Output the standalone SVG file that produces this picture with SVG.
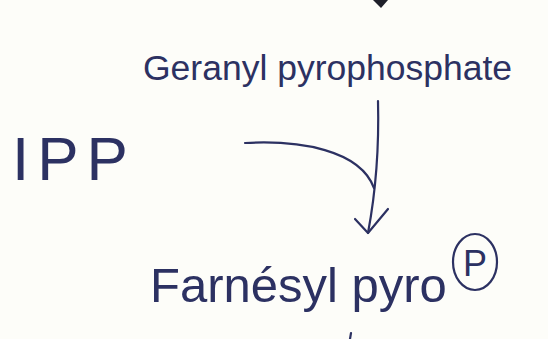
<svg xmlns="http://www.w3.org/2000/svg" width="548" height="339" viewBox="0 0 548 339">
  <style>
    .ink { fill: #2c3162; font-family: "Liberation Sans", Arial, sans-serif; }
    .line { fill: none; stroke: #2c3162; stroke-width: 2.2; stroke-linecap: round; stroke-linejoin: round; }
  </style>
  <rect width="548" height="339" fill="#fdfdf9"/>

  <g id="connectors">
    <!-- arrowhead arriving from above the sheet -->
    <path d="M373 0 L388 0 L381 8 Z" fill="#1e1f2a"/>
    <!-- main step: geranyl pyrophosphate down to farnesyl pyrophosphate -->
    <path class="line" d="M378 101 C379 140 377 185 368 233"/>
    <path class="line" d="M355 219 L368 233 L388 209"/>
    <!-- IPP joins the main step -->
    <path class="line" d="M245 143 C300 140 360 150 374 188"/>
    <!-- start of the next step below -->
    <path class="line" d="M351 333 L350 339"/>
  </g>

  <g id="geranyl">
    <text class="ink" x="143" y="80" font-size="35.5">Geranyl pyrophosphate</text>
  </g>

  <g id="ipp">
    <text class="ink" x="12" y="180" font-size="62" letter-spacing="8">IPP</text>
  </g>

  <g id="farnesyl">
    <text class="ink" x="150" y="302" font-size="49">Farnésyl pyro</text>
    <ellipse cx="475" cy="262" rx="22" ry="28" class="line"/>
    <text class="ink" x="475" y="276" font-size="36" text-anchor="middle">P</text>
  </g>
</svg>
